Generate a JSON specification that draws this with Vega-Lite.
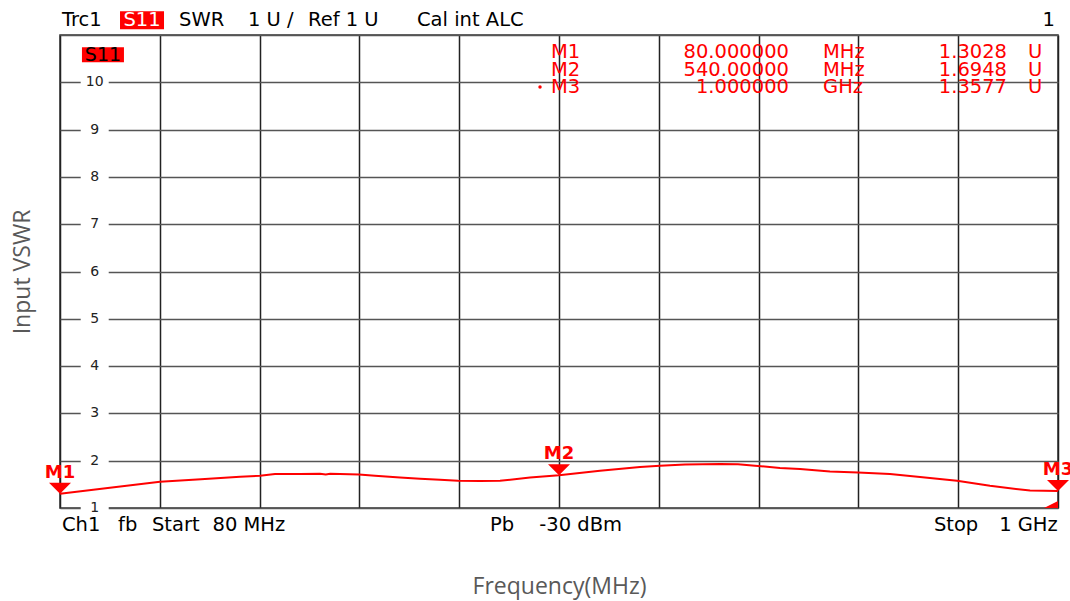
{
  "$schema": "https://vega.github.io/schema/vega-lite/v6.json",
  "width": 998,
  "height": 473,
  "autosize": {"type": "none"},
  "padding": {"left": 60, "top": 35, "right": 12, "bottom": 93},
  "background": "white",
  "config": {
    "view": {"stroke": "#333333", "strokeWidth": 1.5},
    "text": {"font": "DejaVu Sans"}
  },
  "datasets": {
    "trace": [
      {"f": 80, "v": 1.303}, {"f": 126, "v": 1.43}, {"f": 172.2, "v": 1.553}, {"f": 210, "v": 1.61},
      {"f": 246, "v": 1.66}, {"f": 264.4, "v": 1.68}, {"f": 278.2, "v": 1.717}, {"f": 301.2, "v": 1.72},
      {"f": 319.7, "v": 1.723}, {"f": 325, "v": 1.71}, {"f": 329, "v": 1.722}, {"f": 338, "v": 1.717},
      {"f": 355.6, "v": 1.71}, {"f": 370.4, "v": 1.68}, {"f": 393.4, "v": 1.645}, {"f": 411.9, "v": 1.62},
      {"f": 430.3, "v": 1.596}, {"f": 446.9, "v": 1.574}, {"f": 467.2, "v": 1.57}, {"f": 485.6, "v": 1.574},
      {"f": 513.3, "v": 1.645}, {"f": 540, "v": 1.6948}, {"f": 577.8, "v": 1.787}, {"f": 614.7, "v": 1.866},
      {"f": 633.1, "v": 1.894}, {"f": 656.2, "v": 1.92}, {"f": 688.4, "v": 1.93}, {"f": 705, "v": 1.925},
      {"f": 720.7, "v": 1.894}, {"f": 743.7, "v": 1.845}, {"f": 762.2, "v": 1.823}, {"f": 789.8, "v": 1.77},
      {"f": 815.6, "v": 1.75}, {"f": 845.1, "v": 1.717}, {"f": 872.8, "v": 1.653}, {"f": 906.9, "v": 1.574},
      {"f": 937.3, "v": 1.47}, {"f": 974.2, "v": 1.368}, {"f": 1000, "v": 1.3577}
    ],
    "markers": [
      {"m": "M1", "f": 80, "v": 1.3028, "fs": "80.000000", "unit": "MHz"},
      {"m": "M2", "f": 540, "v": 1.6948, "fs": "540.00000", "unit": "MHz"},
      {"m": "M3", "f": 1000, "v": 1.3577, "fs": "1.000000", "unit": "GHz"}
    ],
    "ticks": [
      {"t": 1}, {"t": 2}, {"t": 3}, {"t": 4}, {"t": 5}, {"t": 6}, {"t": 7}, {"t": 8}, {"t": 9}, {"t": 10}
    ]
  },
  "resolve": {"scale": {"y": "independent"}},
  "layer": [
    {
      "layer": [
        {
          "data": {"name": "trace"},
          "mark": {"type": "line", "color": "#ff0000", "strokeWidth": 2},
          "encoding": {
            "x": {
              "field": "f", "type": "quantitative",
              "scale": {"domain": [80, 1000], "nice": false, "zero": false},
              "axis": {
                "values": [80, 172, 264, 356, 448, 540, 632, 724, 816, 908, 1000],
                "labels": false, "ticks": false, "domain": false,
                "grid": true, "gridColor": "#222222", "gridWidth": 1.5, "gridOpacity": 1,
                "title": "Frequency(MHz)", "titleFont": "Open Sans", "titleFontSize": 23,
                "titleFontWeight": "normal", "titleColor": "#595959", "titlePadding": 67
              }
            },
            "y": {
              "field": "v", "type": "quantitative",
              "scale": {"domain": [1, 11], "nice": false, "zero": false},
              "axis": {
                "values": [1, 2, 3, 4, 5, 6, 7, 8, 9, 10, 11],
                "labels": false, "ticks": false, "domain": false,
                "grid": true, "gridColor": "#555555", "gridWidth": 1.5, "gridOpacity": 1,
                "title": "Input VSWR", "titleFont": "Open Sans", "titleFontSize": 23,
                "titleFontWeight": "normal", "titleColor": "#595959", "titlePadding": 26
              }
            }
          }
        },
        {
          "data": {"name": "ticks"},
          "mark": {"type": "point", "shape": "M-1,-0.36H1V0.36H-1Z", "size": 784, "filled": true, "color": "white", "opacity": 1},
          "encoding": {
            "x": {"datum": 112},
            "y": {"field": "t", "type": "quantitative"}
          }
        },
        {
          "data": {"name": "ticks"},
          "mark": {"type": "text", "fontSize": 14, "color": "#222222", "align": "center", "baseline": "middle"},
          "encoding": {
            "x": {"datum": 112},
            "y": {"field": "t", "type": "quantitative"},
            "text": {"field": "t", "type": "quantitative"}
          }
        },
        {
          "data": {"name": "markers"},
          "mark": {"type": "point", "shape": "M-1,-1L1,-1L0,0Z", "size": 484, "filled": true, "color": "#ff0000", "opacity": 1},
          "encoding": {
            "x": {"field": "f", "type": "quantitative"},
            "y": {"field": "v", "type": "quantitative"}
          }
        },
        {
          "data": {"name": "markers"},
          "mark": {"type": "text", "fontSize": 18, "fontWeight": "bold", "color": "#ff0000", "align": "center", "baseline": "middle", "dy": -21},
          "encoding": {
            "x": {"field": "f", "type": "quantitative"},
            "y": {"field": "v", "type": "quantitative"},
            "text": {"field": "m"}
          }
        },
        {
          "data": {"values": [{}]},
          "mark": {"type": "point", "shape": "M0,0L-1,0L0,-0.5Z", "size": 784, "filled": true, "color": "#ff0000", "opacity": 1},
          "encoding": {"x": {"datum": 1000}, "y": {"datum": 1}}
        },
        {
          "data": {"values": [{}]},
          "mark": {"type": "point", "shape": "circle", "size": 12, "filled": true, "color": "#ff0000", "opacity": 1},
          "encoding": {"x": {"datum": 522.5}, "y": {"datum": 9.902}}
        },
        {
          "data": {"values": [{}]},
          "mark": {"type": "point", "shape": "M-1,-0.357H1V0.357H-1Z", "size": 1764, "filled": true, "color": "#ff0000", "opacity": 1},
          "encoding": {"x": {"datum": 119.6}, "y": {"datum": 10.582}}
        },
        {
          "data": {"values": [{}]},
          "mark": {"type": "text", "text": "S11", "fontSize": 19, "color": "#000000", "align": "center", "baseline": "middle"},
          "encoding": {"x": {"datum": 119.6}, "y": {"datum": 10.582}}
        },
        {
          "data": {"values": [{}]},
          "mark": {"type": "point", "shape": "M-1,-0.409H1V0.409H-1Z", "size": 1936, "filled": true, "color": "#ff0000", "opacity": 1},
          "encoding": {"x": {"datum": 155.6}, "y": {"datum": 11.311}}
        },
        {
          "data": {"values": [{}]},
          "mark": {"type": "text", "text": "S11", "fontSize": 19.5, "color": "#ffffff", "align": "center", "baseline": "middle"},
          "encoding": {"x": {"datum": 155.6}, "y": {"datum": 11.311}}
        },
        {
          "data": {"values": [{}]},
          "mark": {"type": "text", "text": "Trc1", "fontSize": 19.5, "color": "#000000", "align": "left", "baseline": "middle"},
          "encoding": {"x": {"datum": 81.8}, "y": {"datum": 11.311}}
        },
        {
          "data": {"values": [{}]},
          "mark": {"type": "text", "text": "SWR", "fontSize": 19.5, "color": "#000000", "align": "left", "baseline": "middle"},
          "encoding": {"x": {"datum": 189.7}, "y": {"datum": 11.311}}
        },
        {
          "data": {"values": [{}]},
          "mark": {"type": "text", "text": "1 U /", "fontSize": 19.5, "color": "#000000", "align": "left", "baseline": "middle"},
          "encoding": {"x": {"datum": 253.3}, "y": {"datum": 11.311}}
        },
        {
          "data": {"values": [{}]},
          "mark": {"type": "text", "text": "Ref 1 U", "fontSize": 19.5, "color": "#000000", "align": "left", "baseline": "middle"},
          "encoding": {"x": {"datum": 308.6}, "y": {"datum": 11.311}}
        },
        {
          "data": {"values": [{}]},
          "mark": {"type": "text", "text": "Cal int ALC", "fontSize": 19.5, "color": "#000000", "align": "left", "baseline": "middle"},
          "encoding": {"x": {"datum": 409.1}, "y": {"datum": 11.311}}
        },
        {
          "data": {"values": [{}]},
          "mark": {"type": "text", "text": "1", "fontSize": 19.5, "color": "#000000", "align": "right", "baseline": "middle"},
          "encoding": {"x": {"datum": 997.2}, "y": {"datum": 11.311}}
        },
        {
          "data": {"values": [{}]},
          "mark": {"type": "text", "text": "Ch1", "fontSize": 19.5, "color": "#000000", "align": "left", "baseline": "middle"},
          "encoding": {"x": {"datum": 81.8}, "y": {"datum": 0.641}}
        },
        {
          "data": {"values": [{}]},
          "mark": {"type": "text", "text": "fb", "fontSize": 19.5, "color": "#000000", "align": "left", "baseline": "middle"},
          "encoding": {"x": {"datum": 133.5}, "y": {"datum": 0.641}}
        },
        {
          "data": {"values": [{}]},
          "mark": {"type": "text", "text": "Start", "fontSize": 19.5, "color": "#000000", "align": "left", "baseline": "middle"},
          "encoding": {"x": {"datum": 164.8}, "y": {"datum": 0.641}}
        },
        {
          "data": {"values": [{}]},
          "mark": {"type": "text", "text": "80 MHz", "fontSize": 19.5, "color": "#000000", "align": "left", "baseline": "middle"},
          "encoding": {"x": {"datum": 220.6}, "y": {"datum": 0.641}}
        },
        {
          "data": {"values": [{}]},
          "mark": {"type": "text", "text": "Pb", "fontSize": 19.5, "color": "#000000", "align": "left", "baseline": "middle"},
          "encoding": {"x": {"datum": 476.4}, "y": {"datum": 0.641}}
        },
        {
          "data": {"values": [{}]},
          "mark": {"type": "text", "text": "-30 dBm", "fontSize": 19.5, "color": "#000000", "align": "left", "baseline": "middle"},
          "encoding": {"x": {"datum": 521.8}, "y": {"datum": 0.641}}
        },
        {
          "data": {"values": [{}]},
          "mark": {"type": "text", "text": "Stop", "fontSize": 19.5, "color": "#000000", "align": "left", "baseline": "middle"},
          "encoding": {"x": {"datum": 885.6}, "y": {"datum": 0.641}}
        },
        {
          "data": {"values": [{}]},
          "mark": {"type": "text", "text": "1 GHz", "fontSize": 19.5, "color": "#000000", "align": "right", "baseline": "middle"},
          "encoding": {"x": {"datum": 999.8}, "y": {"datum": 0.641}}
        }
      ]
    },
    {
      "data": {"name": "markers"},
      "encoding": {
        "y": {"field": "m", "type": "ordinal", "axis": null, "scale": {"type": "point", "range": [17, 52], "padding": 0}}
      },
      "layer": [
        {
          "mark": {"type": "text", "fontSize": 19.5, "color": "#ff0000", "align": "left", "baseline": "middle"},
          "encoding": {"x": {"datum": 532.6}, "text": {"field": "m"}}
        },
        {
          "mark": {"type": "text", "fontSize": 19.5, "color": "#ff0000", "align": "right", "baseline": "middle"},
          "encoding": {"x": {"datum": 752.0}, "text": {"field": "fs"}}
        },
        {
          "mark": {"type": "text", "fontSize": 19.5, "color": "#ff0000", "align": "left", "baseline": "middle"},
          "encoding": {"x": {"datum": 783.4}, "text": {"field": "unit"}}
        },
        {
          "mark": {"type": "text", "fontSize": 19.5, "color": "#ff0000", "align": "right", "baseline": "middle"},
          "encoding": {"x": {"datum": 953.0}, "text": {"field": "v", "type": "quantitative", "format": ".4f"}}
        },
        {
          "mark": {"type": "text", "text": "U", "fontSize": 19.5, "color": "#ff0000", "align": "left", "baseline": "middle"},
          "encoding": {"x": {"datum": 972.3}}
        }
      ]
    }
  ]
}
